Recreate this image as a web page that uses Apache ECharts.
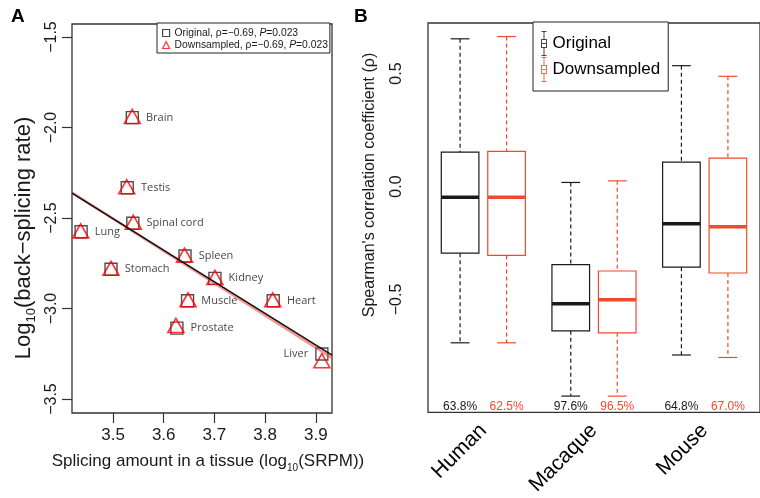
<!DOCTYPE html>
<html>
<head>
<meta charset="utf-8">
<script src="https://cdn.jsdelivr.net/npm/echarts@6/dist/echarts.min.js"></script>
<style>
  html, body { margin: 0; padding: 0; background: #fff; }
  #chart { width: 760px; height: 498px; }
</style>
</head>
<body>
<div id="chart"></div>
<script>
// ---- panel A: tissue scatter ----
const tissues = ['Brain', 'Testis', 'Spinal cord', 'Lung', 'Spleen', 'Stomach', 'Kidney', 'Muscle', 'Heart', 'Prostate', 'Liver'];
const srpmOrig = [3.538, 3.528, 3.539, 3.437, 3.642, 3.496, 3.701, 3.647, 3.816, 3.626, 3.912];
const rateOrig = [-1.945, -2.333, -2.529, -2.576, -2.710, -2.783, -2.833, -2.957, -2.957, -3.108, -3.251];
const srpmDown = [3.538, 3.527, 3.540, 3.436, 3.641, 3.496, 3.701, 3.648, 3.815, 3.624, 3.912];
const rateDown = [-1.939, -2.327, -2.523, -2.571, -2.705, -2.778, -2.828, -2.952, -2.952, -3.093, -3.288];
const fitOrig = [[3.419, -2.362], [3.932, -3.257]];
const fitDown = [[3.419, -2.360], [3.932, -3.273]];
const statOrig = 'ρ=−0.69, {i|P}=0.023';
const statDown = 'ρ=−0.69, {i|P}=0.023';
const xTicksA = [3.5, 3.6, 3.7, 3.8, 3.9];
const yTicksA = [-3.5, -3.0, -2.5, -2.0, -1.5];

// ---- panel B: boxplots [low whisker, q1, median, q3, high whisker] ----
const species = ['Human', 'Macaque', 'Mouse'];
const boxOrig = [
    [-0.692, -0.295, -0.048, 0.152, 0.654],
    [-0.928, -0.639, -0.519, -0.346, 0.018],
    [-0.746, -0.357, -0.165, 0.108, 0.535]
];
const boxDown = [
    [-0.692, -0.305, -0.048, 0.156, 0.664],
    [-0.928, -0.648, -0.501, -0.374, 0.025],
    [-0.757, -0.383, -0.178, 0.126, 0.488]
];
const pctOrig = ['63.8%', '97.6%', '64.8%'];
const pctDown = ['62.5%', '96.5%', '67.0%'];
const yTicksB = [-0.5, 0.0, 0.5];

const BLACK = '#1a1a1a';
const RED_A = '#ff0000';
const RED_B = '#f04a2e';
const FONT = 'Liberation Sans';

const minusFmt = v => v.toFixed(1).replace('-', '\u2212');

// small boxplot glyph for legend B
const boxIcon = 'path://M2,0h10v2h-10Z M6,2h2v14h-2Z M1,16h12v2h-12Z M1,32h12v2h-12Z M1,16h2v18h-2Z M11,16h2v18h-2Z M1,24h12v2h-12Z M6,34h2v14h-2Z M2,48h10v2h-10Z';

function boxRenderer(side, color, pcts) {
    return function(params, api) {
        const cat = api.value(0);
        const band = api.size([1, 0])[0];
        const cx = api.coord([cat, 0])[0] + side * band * 0.21;
        const hw = band * 0.17;
        const y = i => api.coord([cat, api.value(i)])[1];
        const yLo = y(1), yQ1 = y(2), yMed = y(3), yQ3 = y(4), yHi = y(5);
        const yBottom = api.coord([cat, -1.0])[1];
        const dash = { stroke: color, lineWidth: 1.2, lineDash: [4, 3] };
        const solid = { stroke: color, lineWidth: 1.2 };
        return {
            type: 'group',
            children: [
                { type: 'line', shape: { x1: cx, y1: yHi, x2: cx, y2: yQ3 }, style: dash },
                { type: 'line', shape: { x1: cx, y1: yQ1, x2: cx, y2: yLo }, style: dash },
                { type: 'line', shape: { x1: cx - hw / 2, y1: yHi, x2: cx + hw / 2, y2: yHi }, style: solid },
                { type: 'line', shape: { x1: cx - hw / 2, y1: yLo, x2: cx + hw / 2, y2: yLo }, style: solid },
                { type: 'rect', shape: { x: cx - hw, y: yQ3, width: hw * 2, height: yQ1 - yQ3 },
                  style: { fill: 'none', stroke: color, lineWidth: 1.2 } },
                { type: 'line', shape: { x1: cx - hw, y1: yMed, x2: cx + hw, y2: yMed },
                  style: { stroke: color, lineWidth: 3.5 } },
                { type: 'text', style: { text: pcts[params.dataIndex], x: cx, y: yBottom - 6,
                  align: 'center', verticalAlign: 'middle', fill: color, font: '12px "' + FONT + '"' } }
            ]
        };
    };
}

const chart = echarts.init(document.getElementById('chart'));

const option = {
    animation: false,
    textStyle: { fontFamily: FONT, color: BLACK },
    title: [
        { text: 'A', left: 11, top: 7, padding: 0, textStyle: { fontSize: 19, fontWeight: 'bold', color: '#000' } },
        { text: 'B', left: 354, top: 7, padding: 0, textStyle: { fontSize: 19, fontWeight: 'bold', color: '#000' } }
    ],
    grid: [
        { left: 72, top: 24, width: 260, height: 389, show: true, borderColor: '#333', borderWidth: 1.3 },
        { left: 428, top: 23, width: 338, height: 393, show: true, borderColor: '#333', borderWidth: 1.3 }
    ],
    xAxis: [
        {
            gridIndex: 0, type: 'value', min: 3.419, max: 3.932,
            axisLine: { show: false },
            splitLine: { show: false },
            axisTick: { customValues: xTicksA, length: 10, lineStyle: { color: '#333', width: 1.2 } },
            axisLabel: { customValues: xTicksA, fontSize: 17, color: BLACK, margin: 14, formatter: v => v.toFixed(1) },
            name: 'Splicing amount in a tissue (log{s|10}(SRPM))',
            nameLocation: 'middle', nameGap: 36,
            nameTextStyle: {
                fontSize: 17, color: BLACK, lineHeight: 24, padding: [0, 0, 0, 12],
                rich: { s: { fontSize: 10, lineHeight: 10, verticalAlign: 'bottom', fontFamily: FONT, color: BLACK } }
            }
        },
        {
            gridIndex: 1, type: 'category', data: species,
            axisLine: { show: false, onZero: false },
            splitLine: { show: false },
            axisTick: { alignWithLabel: true, length: 11, lineStyle: { color: '#333', width: 1.2 } },
            axisLabel: { rotate: 45, fontSize: 21, color: '#000', margin: 15 }
        }
    ],
    yAxis: [
        {
            gridIndex: 0, type: 'value', min: -3.577, max: -1.428,
            axisLine: { show: false },
            splitLine: { show: false },
            axisTick: { customValues: yTicksA, length: 10, lineStyle: { color: '#333', width: 1.2 } },
            axisLabel: { customValues: yTicksA, rotate: 90, fontSize: 16, color: BLACK, margin: 12, formatter: minusFmt }
        },
        {
            gridIndex: 1, type: 'value', min: -1.0, max: 0.724,
            axisLine: { show: false },
            splitLine: { show: false },
            axisTick: { customValues: yTicksB, length: 11, lineStyle: { color: '#333', width: 1.2 } },
            axisLabel: { customValues: yTicksB, rotate: 90, fontSize: 16, color: BLACK, margin: 23, formatter: minusFmt }
        }
    ],
    graphic: [
        {
            type: 'text', x: 24, y: 238, rotation: Math.PI / 2,
            style: {
                text: 'Log{s|10}(back\u2212splicing rate)',
                fontSize: 22, fontFamily: FONT, fill: BLACK, lineHeight: 28,
                align: 'center', verticalAlign: 'middle',
                rich: { s: { fontSize: 13, lineHeight: 13, verticalAlign: 'bottom', fontFamily: FONT, fill: BLACK } }
            }
        },
        {
            type: 'text', x: 370, y: 185, rotation: Math.PI / 2,
            style: {
                text: 'Spearman\'s correlation coefficient (ρ)',
                fontSize: 16, fontFamily: FONT, fill: BLACK,
                align: 'center', verticalAlign: 'middle'
            }
        }
    ],
    legend: [
        {
            orient: 'vertical', left: 157, top: 23,
            selectedMode: false,
            backgroundColor: '#fff', borderColor: '#222', borderWidth: 1,
            padding: [5, 2, 3, 5], itemGap: 2, itemWidth: 7, itemHeight: 7,
            data: [
                { name: 'Original', icon: 'rect', itemStyle: { color: 'rgba(0,0,0,0)', borderColor: BLACK, borderWidth: 1.2 } },
                { name: 'Downsampled', icon: 'triangle', itemStyle: { color: 'rgba(0,0,0,0)', borderColor: RED_A, borderWidth: 1.2 } }
            ],
            formatter: name => name + ', ' + (name === 'Original' ? statOrig : statDown),
            textStyle: {
                fontSize: 10.3, color: BLACK, fontFamily: FONT,
                rich: { i: { fontStyle: 'italic', fontSize: 10.3, fontFamily: FONT, color: BLACK } }
            }
        },
        {
            orient: 'vertical', left: 533, top: 22,
            selectedMode: false,
            backgroundColor: '#fff', borderColor: '#222', borderWidth: 1,
            padding: [9, 8, 9, 8], itemGap: 1, itemWidth: 7, itemHeight: 25,
            data: [
                { name: 'Original', icon: boxIcon, itemStyle: { color: BLACK, borderWidth: 0 } },
                { name: 'Downsampled', icon: boxIcon, itemStyle: { color: RED_B, borderWidth: 0 } }
            ],
            textStyle: { fontSize: 17, color: '#000', fontFamily: FONT }
        }
    ],
    series: [
        {
            name: 'fitDown', type: 'line', xAxisIndex: 0, yAxisIndex: 0,
            data: fitDown, showSymbol: false, silent: true,
            lineStyle: { color: 'rgba(235, 60, 60, 0.55)', width: 2.6 }
        },
        {
            name: 'fitOrig', type: 'line', xAxisIndex: 0, yAxisIndex: 0,
            data: fitOrig, showSymbol: false, silent: true,
            lineStyle: { color: '#111', width: 1.6 }
        },
        {
            name: 'Original', type: 'scatter', xAxisIndex: 0, yAxisIndex: 0,
            symbol: 'rect', symbolSize: 12,
            itemStyle: { color: 'rgba(0,0,0,0)', borderColor: '#222', borderWidth: 1.4 },
            data: tissues.map((t, i) => ({
                name: t,
                value: [srpmOrig[i], rateOrig[i]],
                label: t === 'Liver' ? { position: 'left', distance: 7 } : undefined
            })),
            label: {
                show: true, position: 'right', distance: 7, formatter: '{b}',
                fontFamily: 'Open Sans', fontSize: 11, color: '#111'
            }
        },
        {
            name: 'Downsampled', type: 'scatter', xAxisIndex: 0, yAxisIndex: 0,
            symbol: 'triangle', symbolSize: [16, 14],
            itemStyle: { color: 'rgba(0,0,0,0)', borderColor: RED_A, borderWidth: 1.6 },
            data: srpmDown.map((x, i) => [x, rateDown[i]])
        },
        {
            name: 'Original', type: 'custom', xAxisIndex: 1, yAxisIndex: 1,
            renderItem: boxRenderer(-1, BLACK, pctOrig),
            encode: { x: 0, y: [1, 2, 3, 4, 5] },
            data: species.map((s, i) => [i].concat(boxOrig[i]))
        },
        {
            name: 'Downsampled', type: 'custom', xAxisIndex: 1, yAxisIndex: 1,
            renderItem: boxRenderer(1, RED_B, pctDown),
            encode: { x: 0, y: [1, 2, 3, 4, 5] },
            data: species.map((s, i) => [i].concat(boxDown[i]))
        }
    ]
};

chart.setOption(option);
</script>
</body>
</html>
